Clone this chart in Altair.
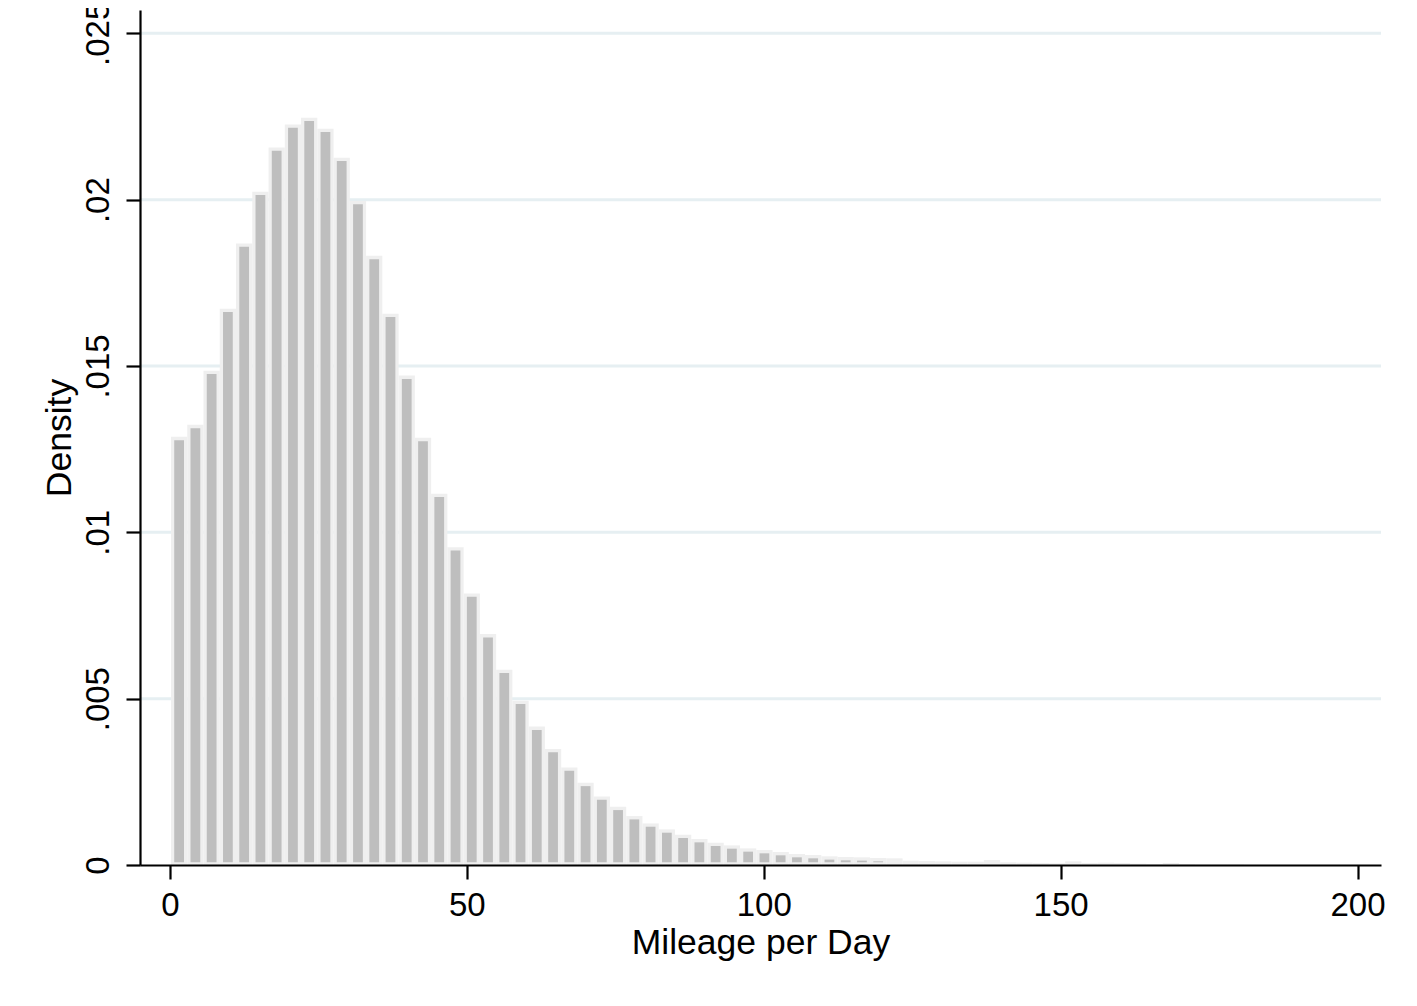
import altair as alt
import pandas as pd

# Histogram of mileage per day (density scale)
BIN_START = 0.17
BIN_WIDTH = 2.738
DENSITY = [
    0.01287, 0.01323, 0.01486, 0.01672, 0.01868, 0.02024, 0.02157, 0.02226,
    0.02246, 0.02213, 0.02126, 0.01996, 0.01831, 0.01657, 0.01471, 0.01284,
    0.01116, 0.00955, 0.00816, 0.00694, 0.00587, 0.00494, 0.00416, 0.00349,
    0.00293, 0.00247, 0.00206, 0.00175, 0.00147, 0.00125, 0.00107, 0.00091,
    0.00078, 0.00067, 0.00059, 0.00050, 0.00045, 0.00039, 0.00033, 0.00030,
    0.00026, 0.00024, 0.00023, 0.00021, 0.00020, 0.00013, 0.00012, 0.00011,
    0.00010, 0.00010, 0.00015, 0.00008, 0.00007, 0.00006, 0.00005, 0.00011,
    0.00006, 0.00007, 0.00006, 0.00004, 0.00003, 0.00006, 0.00003, 0.00002,
    0.00002, 0.00002, 0.00001, 0.00001, 0.00001, 0.00001, 0.00001, 0.00001,
    0.00001,
]
X_TICKS = [0, 50, 100, 150, 200]
Y_TICKS = [0, 0.005, 0.01, 0.015, 0.02, 0.025]
X_TITLE = "Mileage per Day"
Y_TITLE = "Density"

FONT = "Liberation Sans"
W, H = 1241, 855

df = pd.DataFrame({
    "x0": [BIN_START + i * BIN_WIDTH for i in range(len(DENSITY))],
    "x1": [BIN_START + (i + 1) * BIN_WIDTH for i in range(len(DENSITY))],
    "d": DENSITY,
})
grid_df = pd.DataFrame({"d": [v for v in Y_TICKS if v > 0]})

xscale = alt.Scale(domain=[-5.05, 203.95], nice=False, zero=False)
yscale = alt.Scale(domain=[0, 0.0257], nice=False, zero=True)

xaxis = alt.Axis(
    values=X_TICKS, title=X_TITLE, grid=False,
    domainColor="black", domainWidth=2.2, tickColor="black", tickWidth=2.2,
    tickSize=14, labelFont=FONT, labelFontSize=33, labelColor="black",
    labelPadding=10, labelFlush=False, labelOverlap=False,
    titleFont=FONT, titleFontSize=35.5, titleFontWeight="normal", titleColor="black",
    titlePadding=3, zindex=1,
)
yaxis = alt.Axis(
    values=Y_TICKS, title=Y_TITLE, grid=False,
    domainColor="black", domainWidth=2.2, tickColor="black", tickWidth=2.2,
    tickSize=14, labelFont=FONT, labelFontSize=33, labelColor="black",
    labelAngle=270, labelAlign="center", labelBaseline="bottom",
    labelPadding=10.5, labelFlush=False, labelOverlap=False,
    labelExpr="replace(format(datum.value, '.3~f'), '0.', '.')",
    titleFont=FONT, titleFontSize=35.5, titleFontWeight="normal", titleColor="black",
    titlePadding=5, zindex=1,
)

grid = alt.Chart(grid_df).mark_rule(color="#e6eff2", strokeWidth=3).encode(
    y=alt.Y("d:Q", scale=yscale, axis=yaxis),
    x=alt.value(0), x2=alt.value(W),
)

outer = alt.Chart(df).mark_rect(color="#efefef").encode(
    x=alt.X("x0:Q", scale=xscale, axis=xaxis),
    x2="x1:Q",
    y=alt.Y("d:Q", scale=yscale, axis=yaxis),
    y2=alt.datum(0),
)

inner = alt.Chart(df).transform_filter("datum.d > 0.0002").mark_rect(
    color="#bebebe", xOffset=3.25, x2Offset=-3.25, yOffset=3.3, y2Offset=-2.7
).encode(
    x=alt.X("x0:Q", scale=xscale, axis=xaxis),
    x2="x1:Q",
    y=alt.Y("d:Q", scale=yscale, axis=yaxis),
    y2=alt.datum(0),
)

chart = alt.layer(grid, outer, inner).properties(
    width=W, height=H,
    background="white",
    autosize=alt.AutoSizeParams(type="none"),
    padding={"left": 132, "top": 2, "right": 28, "bottom": 120},
).configure_view(stroke=None)

chart.save("out.html", embed_options={"renderer": "svg", "actions": False})
